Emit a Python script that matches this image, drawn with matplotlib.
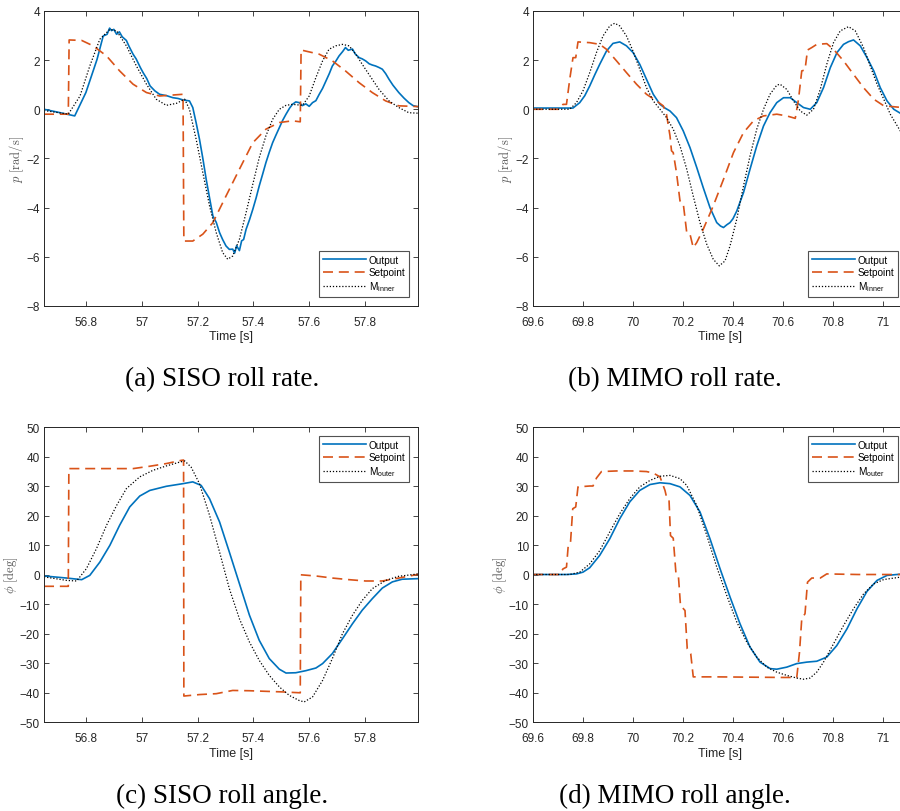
import numpy as np
import matplotlib.pyplot as plt

plt.rcParams["font.family"] = ["Liberation Sans", "DejaVu Sans"]
plt.rcParams["mathtext.fontset"] = "cm"

BLUE = "#0072BD"
ORANGE = "#D95319"

# ---- (a) SISO roll rate ----
a_out_t = [56.65, 56.70, 56.76, 56.80, 56.84, 56.862, 56.876, 56.885, 56.892, 56.90, 56.91, 56.92,
           56.93, 56.945, 56.955, 56.969, 56.98, 56.995, 57.005, 57.018, 57.03, 57.047, 57.064, 57.09,
           57.112, 57.13, 57.148, 57.171, 57.183, 57.195, 57.207, 57.219, 57.231, 57.243, 57.255,
           57.267, 57.279, 57.29, 57.302, 57.314, 57.326, 57.333, 57.34, 57.35, 57.358, 57.365,
           57.374, 57.386, 57.398, 57.41, 57.421, 57.433, 57.445, 57.457, 57.469, 57.481, 57.493,
           57.505, 57.517, 57.53, 57.54, 57.552, 57.564, 57.576, 57.588, 57.60, 57.612, 57.624,
           57.636, 57.648, 57.66, 57.672, 57.683, 57.695, 57.707, 57.72, 57.73, 57.74, 57.755,
           57.765, 57.779, 57.79, 57.802, 57.815, 57.826, 57.838, 57.85, 57.862, 57.874, 57.886,
           57.90, 57.921, 57.94, 57.957, 57.972, 57.99]
a_out_v = [0.0, -0.12, -0.27, 0.68, 2.03, 2.98, 3.05, 3.30, 3.20, 3.25, 3.05, 3.15,
           2.95, 2.80, 2.55, 2.24, 2.05, 1.70, 1.49, 1.25, 0.95, 0.75, 0.61, 0.55,
           0.47, 0.44, 0.38, 0.34, 0.07, -0.55, -1.22, -2.0, -2.85, -3.6, -4.34,
           -4.60, -5.02, -5.30, -5.56, -5.70, -5.69, -5.85, -5.55, -5.75, -5.35, -5.30,
           -4.88, -4.50, -4.07, -3.60, -3.12, -2.65, -2.17, -1.75, -1.36, -1.05, -0.75,
           -0.45, -0.20, 0.05, 0.20, 0.30, 0.27, 0.15, 0.22, 0.12, 0.27, 0.35,
           0.61, 0.85, 1.15, 1.45, 1.76, 1.95, 2.17, 2.35, 2.51, 2.40, 2.45,
           2.25, 2.10, 2.05, 1.97, 1.85, 1.80, 1.76, 1.70, 1.63, 1.45, 1.22,
           0.98, 0.68, 0.45, 0.27, 0.15, 0.10]
a_set_t = [56.65, 56.737, 56.740, 56.785, 56.826, 56.874, 56.921, 56.969, 57.017, 57.064, 57.112,
           57.148, 57.151, 57.183, 57.219, 57.255, 57.302, 57.35, 57.398, 57.445, 57.493, 57.54,
           57.568, 57.571, 57.636, 57.683, 57.73, 57.779, 57.826, 57.874, 57.921, 57.99]
a_set_v = [-0.2, -0.2, 2.82, 2.80, 2.58, 2.17, 1.56, 1.02, 0.68, 0.54, 0.58,
           0.61, -5.36, -5.36, -5.08, -4.61, -3.53, -2.44, -1.36, -0.81, -0.54, -0.47,
           -0.51, 2.41, 2.24, 1.97, 1.56, 1.08, 0.68, 0.34, 0.14, 0.11]
a_mod_t = [56.65, 56.737, 56.779, 56.814, 56.85, 56.886, 56.91, 56.945, 56.981, 57.017, 57.052,
           57.088, 57.124, 57.154, 57.171, 57.195, 57.219, 57.243, 57.267, 57.29, 57.308, 57.326,
           57.35, 57.374, 57.398, 57.421, 57.445, 57.469, 57.493, 57.517, 57.54, 57.576, 57.60,
           57.624, 57.648, 57.671, 57.695, 57.719, 57.743, 57.767, 57.79, 57.814, 57.85, 57.886,
           57.921, 57.957, 57.99]
a_mod_v = [-0.05, -0.2, 0.54, 1.76, 2.85, 3.25, 3.19, 2.58, 1.76, 1.02, 0.41,
           0.16, 0.24, 0.41, 0.0, -1.22, -2.58, -3.93, -5.02, -5.83, -6.10, -5.97,
           -5.29, -4.20, -3.05, -1.97, -1.08, -0.41, 0.0, 0.16, 0.20, 0.16, 0.54,
           1.29, 1.97, 2.44, 2.58, 2.64, 2.58, 2.24, 1.83, 1.42, 0.81, 0.34,
           0.07, -0.14, -0.16]

# ---- (b) MIMO roll rate ----
b_out_t = [69.60, 69.70, 69.76, 69.787, 69.807, 69.827, 69.847, 69.867, 69.894, 69.92, 69.947,
           69.974, 70.0, 70.027, 70.054, 70.081, 70.108, 70.128, 70.148, 70.174, 70.201, 70.228,
           70.255, 70.281, 70.308, 70.335, 70.35, 70.362, 70.375, 70.388, 70.40, 70.415, 70.442,
           70.468, 70.495, 70.522, 70.548, 70.575, 70.602, 70.629, 70.655, 70.682, 70.709,
           70.735, 70.762, 70.789, 70.816, 70.842, 70.862, 70.882, 70.909, 70.936, 70.963,
           70.989, 71.016, 71.043, 71.069, 71.10]
b_out_v = [0.05, 0.05, 0.05, 0.27, 0.55, 0.95, 1.40, 1.83, 2.37, 2.68, 2.74,
           2.58, 2.31, 1.83, 1.22, 0.61, 0.20, 0.05, -0.07, -0.34, -0.88, -1.56,
           -2.37, -3.19, -4.00, -4.61, -4.75, -4.81, -4.70, -4.61, -4.45, -4.14, -3.39,
           -2.44, -1.49, -0.68, -0.14, 0.27, 0.47, 0.47, 0.27, 0.07, 0.0,
           0.27, 0.88, 1.69, 2.31, 2.64, 2.75, 2.82, 2.58, 2.10, 1.56,
           0.88, 0.34, 0.0, -0.16, -0.25]
b_set_t = [69.60, 69.707, 69.72, 69.734, 69.747, 69.76, 69.771, 69.78, 69.827, 69.867, 69.894,
           69.934, 69.974, 70.014, 70.054, 70.094, 70.121, 70.134, 70.148, 70.154, 70.161, 70.174,
           70.188, 70.201, 70.215, 70.228, 70.241, 70.255, 70.281, 70.321, 70.362, 70.402, 70.442,
           70.482, 70.522, 70.575, 70.615, 70.649, 70.662, 70.675, 70.688, 70.698, 70.715, 70.735,
           70.775, 70.802, 70.842, 70.882, 70.922, 70.963, 71.003, 71.10]
b_set_v = [0.0, 0.0, 0.2, 0.2, 1.22, 2.10, 2.10, 2.74, 2.71, 2.64, 2.44,
           1.97, 1.49, 1.02, 0.61, 0.34, 0.14, -0.20, -1.08, -1.69, -1.76, -2.58,
           -3.73, -3.83, -5.02, -5.08, -5.63, -5.42, -4.88, -3.93, -2.85, -1.76, -0.95,
           -0.47, -0.27, -0.20, -0.27, -0.37, 0.41, 1.56, 1.60, 2.41, 2.51, 2.64,
           2.67, 2.44, 1.97, 1.42, 0.88, 0.41, 0.14, 0.05]
b_mod_t = [69.60, 69.747, 69.774, 69.80, 69.827, 69.854, 69.88, 69.907, 69.927, 69.947, 69.974,
           70.0, 70.027, 70.054, 70.081, 70.108, 70.134, 70.161, 70.188, 70.215, 70.241, 70.268,
           70.295, 70.321, 70.345, 70.368, 70.388, 70.415, 70.442, 70.468, 70.495, 70.522, 70.548,
           70.575, 70.588, 70.615, 70.642, 70.669, 70.695, 70.722, 70.749, 70.775, 70.802, 70.829,
           70.862, 70.889, 70.922, 70.949, 70.976, 71.003, 71.029, 71.069, 71.10]
b_mod_v = [0.0, 0.0, 0.27, 0.75, 1.49, 2.31, 2.98, 3.39, 3.50, 3.39, 2.98,
           2.37, 1.63, 0.88, 0.34, 0.0, -0.34, -0.81, -1.49, -2.44, -3.53, -4.61,
           -5.49, -6.10, -6.37, -6.17, -5.56, -4.47, -3.12, -1.90, -0.81, 0.0, 0.61,
           0.98, 1.02, 0.81, 0.34, -0.07, -0.24, 0.0, 0.81, 1.83, 2.71, 3.19,
           3.36, 3.19, 2.51, 1.76, 1.02, 0.41, -0.20, -0.88, -1.20]

# ---- (c) SISO roll angle ----
c_out_t = [56.65, 56.731, 56.785, 56.814, 56.85, 56.886, 56.921, 56.957, 56.993, 57.029, 57.088,
           57.148, 57.183, 57.213, 57.243, 57.279, 57.314, 57.35, 57.386, 57.421, 57.457, 57.493,
           57.517, 57.552, 57.588, 57.624, 57.648, 57.683, 57.719, 57.755, 57.79, 57.826, 57.862,
           57.898, 57.933, 57.99]
c_out_v = [-0.5, -1.2, -1.75, -0.3, 4.2, 9.9, 16.7, 22.9, 26.6, 28.5, 29.9,
           30.8, 31.4, 30.2, 25.7, 17.8, 7.6, -3.1, -13.8, -22.3, -28.5, -32.1,
           -33.4, -33.3, -32.6, -31.7, -30.2, -26.8, -21.8, -16.7, -12.1, -8.2, -4.6,
           -2.5, -1.6, -1.4]
c_set_t = [56.65, 56.737, 56.739, 56.85, 56.969, 57.029, 57.088, 57.142, 57.150, 57.151, 57.207,
           57.267, 57.326, 57.386, 57.445, 57.505, 57.568, 57.570, 57.624, 57.683, 57.743, 57.802,
           57.862, 57.921, 57.99]
c_set_v = [-4.0, -4.0, 35.9, 35.9, 35.9, 36.7, 37.6, 38.7, 38.8, -41.2, -40.7,
           -40.4, -39.3, -39.4, -39.6, -39.8, -40.1, -0.1, -0.5, -1.2, -1.75, -2.2,
           -2.2, -1.2, 0.05]
c_mod_t = [56.65, 56.731, 56.767, 56.802, 56.838, 56.874, 56.91, 56.945, 56.993, 57.04, 57.088,
           57.136, 57.154, 57.177, 57.207, 57.243, 57.279, 57.314, 57.35, 57.386, 57.421, 57.457,
           57.493, 57.529, 57.564, 57.582, 57.612, 57.648, 57.683, 57.719, 57.755, 57.79, 57.826,
           57.874, 57.921, 57.99]
c_mod_v = [-0.8, -2.0, -2.2, 2.0, 8.8, 16.7, 23.4, 29.1, 33.1, 35.3, 36.8,
           38.1, 38.5, 36.4, 30.8, 20.1, 7.6, -4.8, -15.0, -22.9, -29.1, -34.2,
           -38.1, -41.0, -42.7, -43.2, -41.5, -35.9, -28.5, -20.1, -13.8, -8.8, -4.8,
           -2.0, -0.6, 0.2]

# ---- (d) MIMO roll angle ----
d_out_t = [69.60, 69.734, 69.774, 69.80, 69.827, 69.867, 69.907, 69.947, 69.987, 70.027, 70.068,
           70.108, 70.148, 70.188, 70.228, 70.268, 70.308, 70.348, 70.388, 70.428, 70.468, 70.508,
           70.549, 70.575, 70.615, 70.655, 70.695, 70.735, 70.775, 70.815, 70.856, 70.896, 70.936,
           70.976, 71.016, 71.069, 71.10]
d_out_v = [0.0, 0.0, 0.2, 0.8, 2.3, 6.5, 12.1, 18.9, 24.6, 28.5, 30.5,
           31.1, 30.8, 29.7, 26.8, 21.2, 12.1, 2.0, -7.6, -16.7, -24.6, -29.7,
           -31.9, -32.1, -31.4, -30.2, -29.7, -29.4, -28.0, -24.1, -18.4, -11.6, -5.7,
           -2.0, -0.3, 0.1, 0.1]
d_set_t = [69.60, 69.707, 69.72, 69.734, 69.741, 69.75, 69.759, 69.771, 69.78, 69.827, 69.84,
           69.854, 69.874, 69.934, 70.0, 70.054, 70.081, 70.108, 70.128, 70.134, 70.144, 70.15,
           70.161, 70.172, 70.182, 70.19, 70.208, 70.217, 70.231, 70.241, 70.335, 70.468, 70.602,
           70.655, 70.666, 70.675, 70.688, 70.698, 70.715, 70.749, 70.775, 70.90, 71.10]
d_set_v = [0.0, 0.0, 1.9, 2.5, 9.8, 10.7, 22.3, 22.9, 29.7, 30.0, 30.0,
           32.7, 34.9, 35.1, 35.1, 34.9, 34.4, 33.1, 28.5, 26.3, 25.5, 13.2,
           12.3, 0.2, -0.9, -10.5, -12.2, -25.2, -26.9, -34.7, -34.7, -34.8, -34.9,
           -34.9, -26.3, -15.0, -13.3, -2.6, -1.2, -1.2, 0.2, 0.0, 0.0]
d_mod_t = [69.60, 69.747, 69.787, 69.827, 69.867, 69.907, 69.947, 69.987, 70.027, 70.068, 70.108,
           70.148, 70.188, 70.215, 70.255, 70.295, 70.335, 70.375, 70.415, 70.455, 70.495, 70.535,
           70.575, 70.615, 70.655, 70.682, 70.708, 70.735, 70.762, 70.802, 70.842, 70.882, 70.922,
           70.962, 71.003, 71.069, 71.10]
d_mod_v = [0.0, 0.0, 0.8, 3.6, 8.1, 14.4, 20.6, 25.7, 29.7, 31.9, 33.3,
           33.6, 32.5, 30.2, 23.4, 13.3, 2.5, -7.1, -16.1, -22.9, -28.0, -31.4,
           -33.1, -34.2, -35.1, -35.5, -35.1, -33.1, -29.7, -23.5, -17.3, -11.6, -6.6,
           -3.2, -1.7, -0.9, -0.7]

captions = ["(a) SISO roll rate.", "(b) MIMO roll rate.",
            "(c) SISO roll angle.", "(d) MIMO roll angle."]
caption_xy = [(0.247, 0.532), (0.75, 0.532), (0.247, 0.019), (0.75, 0.019)]

fig = plt.figure(figsize=(9.0, 8.12), dpi=100)

W, H = 0.4156, 0.3633
panels = [
    ([0.0489, 0.622, W, H], (a_out_t, a_out_v), (a_set_t, a_set_v), (a_mod_t, a_mod_v),
     (56.65, 57.99), (-8, 4), np.arange(-8, 5, 2), np.arange(56.8, 57.81, 0.2),
     r"$p\ [\mathrm{rad/s}]$", "inner", "lower right"),
    ([0.5922, 0.622, W, H], (b_out_t, b_out_v), (b_set_t, b_set_v), (b_mod_t, b_mod_v),
     (69.6, 71.096), (-8, 4), np.arange(-8, 5, 2), np.arange(69.6, 71.01, 0.2),
     r"$p\ [\mathrm{rad/s}]$", "inner", "lower right"),
    ([0.0489, 0.1096, W, H], (c_out_t, c_out_v), (c_set_t, c_set_v), (c_mod_t, c_mod_v),
     (56.65, 57.99), (-50, 50), np.arange(-50, 51, 10), np.arange(56.8, 57.81, 0.2),
     r"$\phi\ [\mathrm{deg}]$", "outer", "upper right"),
    ([0.5922, 0.1096, W, H], (d_out_t, d_out_v), (d_set_t, d_set_v), (d_mod_t, d_mod_v),
     (69.6, 71.096), (-50, 50), np.arange(-50, 51, 10), np.arange(69.6, 71.01, 0.2),
     r"$\phi\ [\mathrm{deg}]$", "outer", "upper right"),
]

for i, (rect, out, sp, mod, xl, yl, yt, xt, ylab, sub, loc) in enumerate(panels):
    ax = fig.add_axes(rect)
    ax.plot(*out, color=BLUE, lw=1.2, label="Output")
    ax.plot(*sp, color=ORANGE, lw=1.2, ls=(0, (6, 3.5)), label="Setpoint")
    ax.plot(*mod, color="black", lw=0.9, ls=(0, (1, 1.5)),
            label=r"M$_\mathregular{" + sub + "}$")
    ax.set_xlim(*xl)
    ax.set_ylim(*yl)
    ax.set_yticks(yt)
    ax.set_xticks(xt)
    ax.set_xticklabels(["%g" % round(v, 1) for v in xt])
    ax.tick_params(direction="in", top=True, right=True, labelsize=8.5,
                   colors="#262626", length=3.5, width=0.6, pad=3)
    ax.tick_params(axis="x", pad=7)
    for s in ax.spines.values():
        s.set_color("#262626")
        s.set_linewidth(0.7)
    ax.set_xlabel("Time [s]", fontsize=9, color="#262626", labelpad=2)
    ax.set_ylabel(ylab, fontsize=9, color="#555555", labelpad=0)
    leg = ax.legend(loc=loc, fontsize=7.2, frameon=True, fancybox=False,
                    borderaxespad=0.9, handlelength=4.3, handletextpad=0.3,
                    labelspacing=0.25, borderpad=0.35)
    leg.get_frame().set_edgecolor("#262626")
    leg.get_frame().set_linewidth(0.8)
    fig.text(*caption_xy[i], captions[i], ha="center", va="center",
             fontsize=19.5, family=["Liberation Serif", "DejaVu Serif"])

fig.savefig("out.png", dpi=100)
